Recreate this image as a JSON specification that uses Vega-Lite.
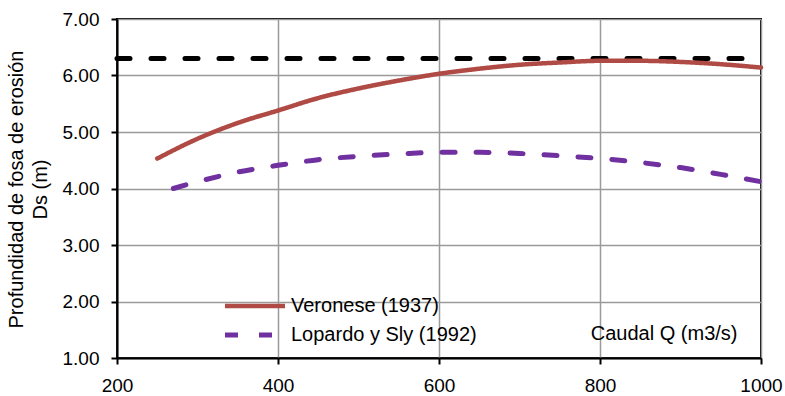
{
  "$schema": "https://vega.github.io/schema/vega-lite/v6.json",
  "width": 644,
  "height": 339,
  "autosize": "none",
  "padding": {"left": 117, "top": 19, "right": 24, "bottom": 38},
  "background": "white",
  "config": {
    "font": "Liberation Sans",
    "view": {"stroke": "black", "strokeWidth": 2},
    "axis": {
      "labelFont": "Liberation Sans",
      "titleFont": "Liberation Sans",
      "labelFontSize": 19,
      "titleFontSize": 20,
      "labelColor": "black",
      "titleColor": "black",
      "titleFontWeight": "normal",
      "domainColor": "black",
      "domainWidth": 2,
      "tickColor": "black",
      "tickWidth": 2,
      "tickSize": 6,
      "gridColor": "#9a9a9a",
      "gridWidth": 1.5,
      "gridOpacity": 1
    },
    "legend": {
      "labelFont": "Liberation Sans",
      "labelFontSize": 20,
      "labelColor": "black",
      "labelLimit": 400
    }
  },
  "datasets": {
    "curvas": [
      {"Q": 250, "Ds": 4.53, "serie": "Veronese (1937)"},
      {"Q": 300, "Ds": 4.88, "serie": "Veronese (1937)"},
      {"Q": 350, "Ds": 5.16, "serie": "Veronese (1937)"},
      {"Q": 400, "Ds": 5.38, "serie": "Veronese (1937)"},
      {"Q": 450, "Ds": 5.6, "serie": "Veronese (1937)"},
      {"Q": 500, "Ds": 5.77, "serie": "Veronese (1937)"},
      {"Q": 550, "Ds": 5.91, "serie": "Veronese (1937)"},
      {"Q": 600, "Ds": 6.03, "serie": "Veronese (1937)"},
      {"Q": 650, "Ds": 6.12, "serie": "Veronese (1937)"},
      {"Q": 700, "Ds": 6.19, "serie": "Veronese (1937)"},
      {"Q": 750, "Ds": 6.23, "serie": "Veronese (1937)"},
      {"Q": 800, "Ds": 6.26, "serie": "Veronese (1937)"},
      {"Q": 850, "Ds": 6.26, "serie": "Veronese (1937)"},
      {"Q": 900, "Ds": 6.24, "serie": "Veronese (1937)"},
      {"Q": 950, "Ds": 6.2, "serie": "Veronese (1937)"},
      {"Q": 1000, "Ds": 6.14, "serie": "Veronese (1937)"},
      {"Q": 270, "Ds": 4.0, "serie": "Lopardo y Sly (1992)"},
      {"Q": 300, "Ds": 4.12, "serie": "Lopardo y Sly (1992)"},
      {"Q": 350, "Ds": 4.29, "serie": "Lopardo y Sly (1992)"},
      {"Q": 400, "Ds": 4.41, "serie": "Lopardo y Sly (1992)"},
      {"Q": 450, "Ds": 4.51, "serie": "Lopardo y Sly (1992)"},
      {"Q": 500, "Ds": 4.57, "serie": "Lopardo y Sly (1992)"},
      {"Q": 550, "Ds": 4.61, "serie": "Lopardo y Sly (1992)"},
      {"Q": 600, "Ds": 4.64, "serie": "Lopardo y Sly (1992)"},
      {"Q": 650, "Ds": 4.64, "serie": "Lopardo y Sly (1992)"},
      {"Q": 700, "Ds": 4.62, "serie": "Lopardo y Sly (1992)"},
      {"Q": 750, "Ds": 4.58, "serie": "Lopardo y Sly (1992)"},
      {"Q": 800, "Ds": 4.53, "serie": "Lopardo y Sly (1992)"},
      {"Q": 850, "Ds": 4.46, "serie": "Lopardo y Sly (1992)"},
      {"Q": 900, "Ds": 4.37, "serie": "Lopardo y Sly (1992)"},
      {"Q": 950, "Ds": 4.25, "serie": "Lopardo y Sly (1992)"},
      {"Q": 1000, "Ds": 4.12, "serie": "Lopardo y Sly (1992)"}
    ],
    "limite": [
      {"Q": 200, "Ds": 6.3},
      {"Q": 1000, "Ds": 6.3}
    ]
  },
  "encoding": {
    "x": {
      "field": "Q",
      "type": "quantitative",
      "scale": {"domain": [200, 1000], "nice": false, "zero": false},
      "axis": {
        "values": [200, 400, 600, 800, 1000],
        "format": "d",
        "labelPadding": 12,
        "title": "Caudal Q (m3/s)",
        "titleAnchor": "start",
        "titleX": 620,
        "titleY": -25,
        "titleAlign": "right",
        "titleBaseline": "middle",
        "labelFlush": false
      }
    },
    "y": {
      "field": "Ds",
      "type": "quantitative",
      "scale": {"domain": [1, 7], "nice": false, "zero": false},
      "axis": {
        "values": [1, 2, 3, 4, 5, 6, 7],
        "format": ".2f",
        "labelPadding": 12,
        "title": ["Profundidad de fosa de erosión", "Ds (m)"],
        "titleLineHeight": 24,
        "titleX": -101,
        "titleY": 170,
        "titleAlign": "center",
        "titleBaseline": "middle",
        "titleAngle": -90
      }
    }
  },
  "layer": [
    {
      "data": {"name": "limite"},
      "mark": {"type": "line", "color": "black", "strokeWidth": 5, "strokeDash": [13, 21], "strokeCap": "round"}
    },
    {
      "data": {"name": "curvas"},
      "mark": {"type": "line", "strokeCap": "round", "interpolate": "monotone"},
      "encoding": {
        "color": {
          "field": "serie",
          "type": "nominal",
          "scale": {"domain": ["Veronese (1937)", "Lopardo y Sly (1992)"], "range": ["#B04A45", "#7030A0"]},
          "legend": {
            "title": null,
            "orient": "none",
            "legendX": 128,
            "legendY": 277,
            "symbolType": "M-6,0H6",
            "symbolSize": 100,
            "symbolStrokeWidth": 5,
            "rowPadding": 9,
            "labelOffset": 26,
            "labelExpr": "datum.label == 'Lopardo y Sly (1992)' ? '\u00a0' + datum.label : datum.label"
          }
        },
        "strokeDash": {
          "field": "serie",
          "type": "nominal",
          "scale": {"domain": ["Veronese (1937)", "Lopardo y Sly (1992)"], "range": [[1, 0], [13, 21]]},
          "legend": {
            "title": null,
            "orient": "none",
            "legendX": 128,
            "legendY": 277,
            "symbolType": "M-6,0H6",
            "symbolSize": 100,
            "symbolStrokeWidth": 5,
            "rowPadding": 9,
            "labelOffset": 26,
            "labelExpr": "datum.label == 'Lopardo y Sly (1992)' ? '\u00a0' + datum.label : datum.label"
          }
        },
        "strokeWidth": {
          "field": "serie",
          "type": "nominal",
          "scale": {"domain": ["Veronese (1937)", "Lopardo y Sly (1992)"], "range": [4.5, 5]},
          "legend": null
        }
      }
    }
  ]
}
